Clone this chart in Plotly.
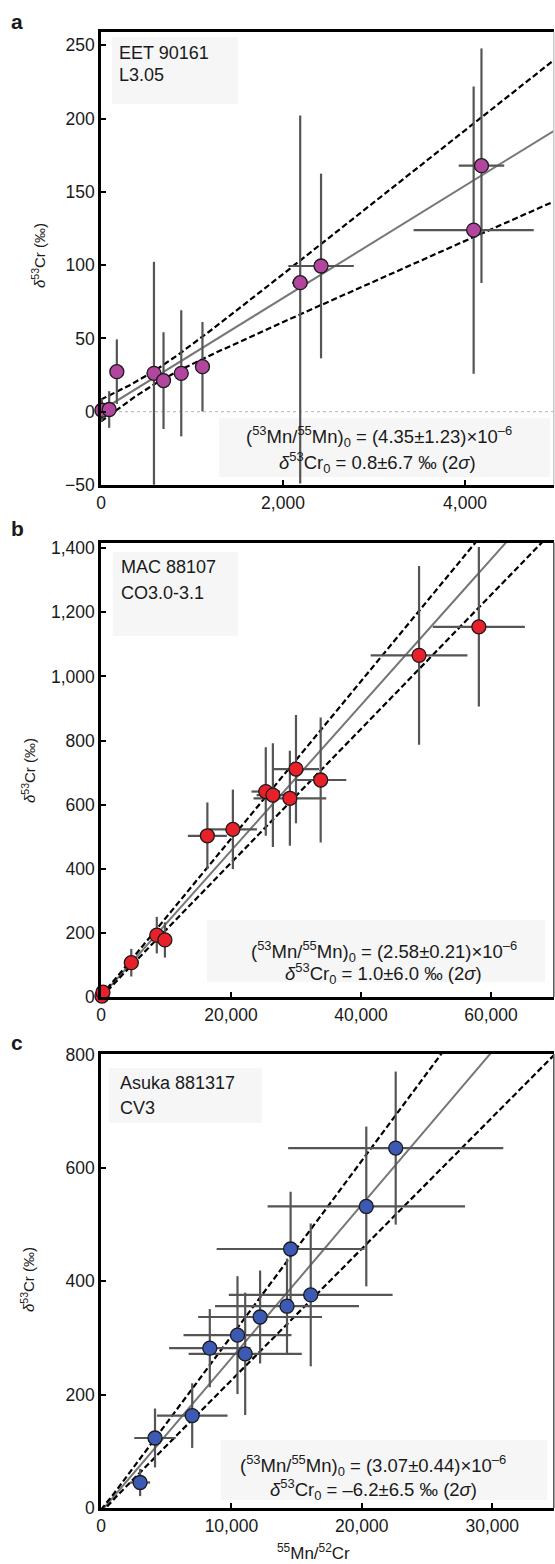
import numpy as np
import plotly.graph_objects as go

# ---------------- data ----------------
# Panel a: EET 90161 (L3.05)
a_x = [10, 90, 174, 582, 687, 882, 1115, 2189, 2418, 4095, 4181]
a_y = [1.0, 1.5, 27.3, 26.2, 21.2, 26.2, 30.7, 88.0, 99.4, 123.9, 167.8]
a_yerr_plus = [8, 12.5, 22, 76, 33, 43, 30.5, 114, 63, 98, 80]
a_yerr_minus = [8, 12.5, 22, 76, 33, 43, 30.5, 137, 63, 98, 80]
a_xerr = [0, 0, 0, 0, 0, 60, 0, 90, 360, 660, 250]

# Panel b: MAC 88107 (CO3.0-3.1)
b_x = [150, 300, 4662, 8582, 9830, 16366, 20292, 25354, 26446, 29062, 30000, 33800, 48938, 58138]
b_y = [3, 15, 107, 193, 178, 503, 523, 641, 630, 620, 711, 677, 1066, 1155]
b_yerr = [5, 5, 43, 57, 55, 104, 124, 138, 162, 148, 169, 195, 279, 249]
b_xerr = [0, 0, 600, 800, 0, 3000, 3700, 2200, 2500, 5600, 3550, 3950, 7440, 7080]

# Panel c: Asuka 881317 (CV3)
c_x = [3000, 4141, 6994, 8344, 10467, 11058, 12201, 14264, 14540, 16083, 20345, 22600]
c_y = [45, 123.5, 163, 282, 305, 272, 337, 356, 457, 376, 532, 635]
c_yerr = [24, 52, 57, 69, 104, 108, 82, 84, 101, 126, 141, 135]
c_xerr = [770, 1590, 2710, 3120, 4140, 4340, 4750, 5520, 5670, 6280, 7570, 8250]

# isochron parameters (from the figure text)
CR_RATIO = 0.113459  # 53Cr/52Cr reference ratio
a_R0, a_R0err, a_d0 = 4.35e-6, 1.23e-6, 0.8
b_R0, b_R0err, b_d0 = 2.58e-6, 0.21e-6, 1.0
c_R0, c_R0err, c_d0 = 3.07e-6, 0.44e-6, -6.2
# envelope pivot / minimum half-width
a_piv, a_w0 = 550, 4.5
b_piv, b_w0 = 0, 3.0
c_piv, c_w0 = 0, 3.0

# axis ranges / ticks
a_xr, a_yr = [0, 4978], [-50, 259]
b_xr, b_yr = [0, 69700], [0, 1418]
c_xr, c_yr = [0, 34740], [0, 801]

names = ["a", "b", "c"]
samples = ["EET 90161", "MAC 88107", "Asuka 881317"]
types = ["L3.05", "CO3.0-3.1", "CV3"]
r0_txt = ["(4.35±1.23)", "(2.58±0.21)", "(3.07±0.44)"]
d0_txt = ["0.8±6.7", "1.0±6.0", "–6.2±6.5"]
colors = ["#B2469F", "#E8202A", "#3C5AB4"]

# ---------------- layout helpers ----------------
W, H = 555, 1564
ML, MR, MT, MB = 101, 1, 32, 56
PW = W - ML - MR
PH = H - MT - MB


def px2x(px):
    return (px - ML) / PW


def py2y(py):
    return (H - MB - py) / PH


FONT = "Liberation Sans, Arial, Helvetica, sans-serif"
TXT = "#1a1a1a"

domains = [[py2y(485), 1.0], [py2y(997), py2y(542.5)], [0.0, py2y(1054)]]

fig = go.Figure()

panels = [
    (a_x, a_y, a_xerr, a_yerr_plus, a_yerr_minus, a_R0, a_R0err, a_d0, a_piv, a_w0, a_xr, a_yr, 2000, 50),
    (b_x, b_y, b_xerr, b_yerr, b_yerr, b_R0, b_R0err, b_d0, b_piv, b_w0, b_xr, b_yr, 20000, 200),
    (c_x, c_y, c_xerr, c_yerr, c_yerr, c_R0, c_R0err, c_d0, c_piv, c_w0, c_xr, c_yr, 10000, 200),
]

for i, (xs, ys, xe, yep, yem, R0, R0e, d0, piv, w0, xr, yr, dx, dy) in enumerate(panels):
    k = "" if i == 0 else str(i + 1)
    xa, ya = "x" + k, "y" + k
    slope = R0 / CR_RATIO * 1000.0
    sb = R0e / CR_RATIO * 1000.0
    xx = np.linspace(xr[0], xr[1], 300)
    yy = d0 + slope * xx
    half = np.sqrt(w0 ** 2 + (sb * (xx - piv)) ** 2)
    # fit line
    fig.add_trace(go.Scatter(x=xx, y=yy, mode="lines", xaxis=xa, yaxis=ya,
                             line=dict(color="#777777", width=2), hoverinfo="skip", showlegend=False))
    for sgn in (1, -1):
        fig.add_trace(go.Scatter(x=xx, y=yy + sgn * half, mode="lines", xaxis=xa, yaxis=ya,
                                 line=dict(color="black", width=2.2, dash="6px,3px"),
                                 hoverinfo="skip", showlegend=False))
    # error bars
    fig.add_trace(go.Scatter(x=xs, y=ys, mode="markers", xaxis=xa, yaxis=ya,
                             marker=dict(size=1, color="rgba(0,0,0,0)"),
                             error_y=dict(type="data", array=yep, arrayminus=yem, symmetric=False,
                                          color="#555555", thickness=2.2, width=0),
                             error_x=dict(type="data", array=xe, color="#555555", thickness=2.2, width=0),
                             hoverinfo="skip", showlegend=False))
    # markers
    fig.add_trace(go.Scatter(x=xs, y=ys, mode="markers", xaxis=xa, yaxis=ya, cliponaxis=False,
                             marker=dict(size=14, color=colors[i], line=dict(color="#1a1a1a", width=1.3)),
                             showlegend=False))

    axis_common = dict(showgrid=False, zeroline=False, showline=True, linecolor="black", linewidth=2.5,
                       ticks="inside", ticklen=5, tickwidth=2, tickcolor="black",
                       tickfont=dict(family=FONT, size=17.5, color=TXT), tickformat=",d")
    fig.update_layout(**{
        ("xaxis" + k): dict(axis_common, domain=[0, 1], range=xr, dtick=dx, tick0=0, anchor=ya, mirror=True),
        ("yaxis" + k): dict(axis_common, domain=domains[i], range=yr, dtick=dy, tick0=0, anchor=xa),
    })

# ---------------- shapes & annotations ----------------
shapes = []
ann = []

# zero dotted line (panel a)
shapes.append(dict(type="line", xref="x domain", yref="y", x0=0, x1=1, y0=0, y1=0,
                   line=dict(color="#b0b0b0", width=1, dash="dot"), layer="below"))

# right borders
right_cols = ["#c8c8c8", "#555555", "#555555"]
panel_px = [(31.7, 485), (542.5, 997), (1054, 1508)]
for i in range(3):
    t, b = panel_px[i]
    shapes.append(dict(type="line", xref="paper", yref="paper", x0=px2x(553.8), x1=px2x(553.8),
                       y0=py2y(b), y1=py2y(t), line=dict(color=right_cols[i], width=1.5)))

BOXC = "rgba(238,238,238,0.55)"
# name boxes
name_boxes = [(112, 238, 37, 104), (112.6, 238, 551.7, 636), (109, 262, 1068, 1123)]
for (x0, x1, y0, y1) in name_boxes:
    shapes.append(dict(type="rect", xref="paper", yref="paper", x0=px2x(x0), x1=px2x(x1),
                       y0=py2y(y1), y1=py2y(y0), fillcolor=BOXC, line=dict(width=0), layer="below"))
# formula boxes
form_boxes = [(219, 550, 418, 477), (207, 545, 920, 982), (221, 547, 1440, 1500)]
for (x0, x1, y0, y1) in form_boxes:
    shapes.append(dict(type="rect", xref="paper", yref="paper", x0=px2x(x0), x1=px2x(x1),
                       y0=py2y(y1), y1=py2y(y0), fillcolor=BOXC, line=dict(width=0), layer="below"))


def text(px, py, s, size=17, xanchor="center", angle=0, yanchor="middle"):
    ann.append(dict(xref="paper", yref="paper", x=px2x(px), y=py2y(py), text=s, showarrow=False,
                    xanchor=xanchor, yanchor=yanchor, textangle=angle,
                    font=dict(family=FONT, size=size, color=TXT)))


# panel letters
for lab, py in zip(names, [21.7, 528, 1042]):
    text(17, py, "<b>%s</b>" % lab, size=21)

# sample names
name_lines = [(117, 53.3, 75), (118.6, 567.3, 592.7), (117.9, 1083.3, 1108.3)]
for i, (lx, y1, y2) in enumerate(name_lines):
    text(lx, y1, samples[i], size=18, xanchor="left")
    text(lx, y2, types[i], size=18, xanchor="left")

# formula lines
form_pos = [((378.8, 436.7), (377.9, 462.3)), ((384, 951.7), (383, 973.3)), ((372.6, 1465), (373.8, 1489))]
for i, (p1, p2) in enumerate(form_pos):
    l1 = "(<sup>53</sup>Mn/<sup>55</sup>Mn)<sub>0</sub> = %s×10<sup>–6</sup>" % r0_txt[i]
    l2 = "<i>δ</i><sup>53</sup>Cr<sub>0</sub> = %s ‰ (2<i>σ</i>)" % d0_txt[i]
    text(p1[0], p1[1], l1, size=18.5)
    text(p2[0], p2[1], l2, size=18.5)

# y titles
for px, py in [(38, 256), (28, 771), (27, 1280)]:
    text(px, py, "<i>δ</i><sup>53</sup>Cr (‰)", size=15, angle=-90)

# x title
text(313, 1565, "<sup>55</sup>Mn/<sup>52</sup>Cr", size=17, yanchor="bottom")

fig.update_layout(width=W, height=H, margin=dict(l=ML, r=MR, t=MT, b=MB),
                  paper_bgcolor="white", plot_bgcolor="white",
                  shapes=shapes, annotations=ann, showlegend=False,
                  font=dict(family=FONT, color=TXT))

fig.write_html("out.html", config={"displayModeBar": False},
               post_script="document.body.style.margin='0';document.body.style.padding='0';"
                           "document.body.style.overflow='hidden';")
